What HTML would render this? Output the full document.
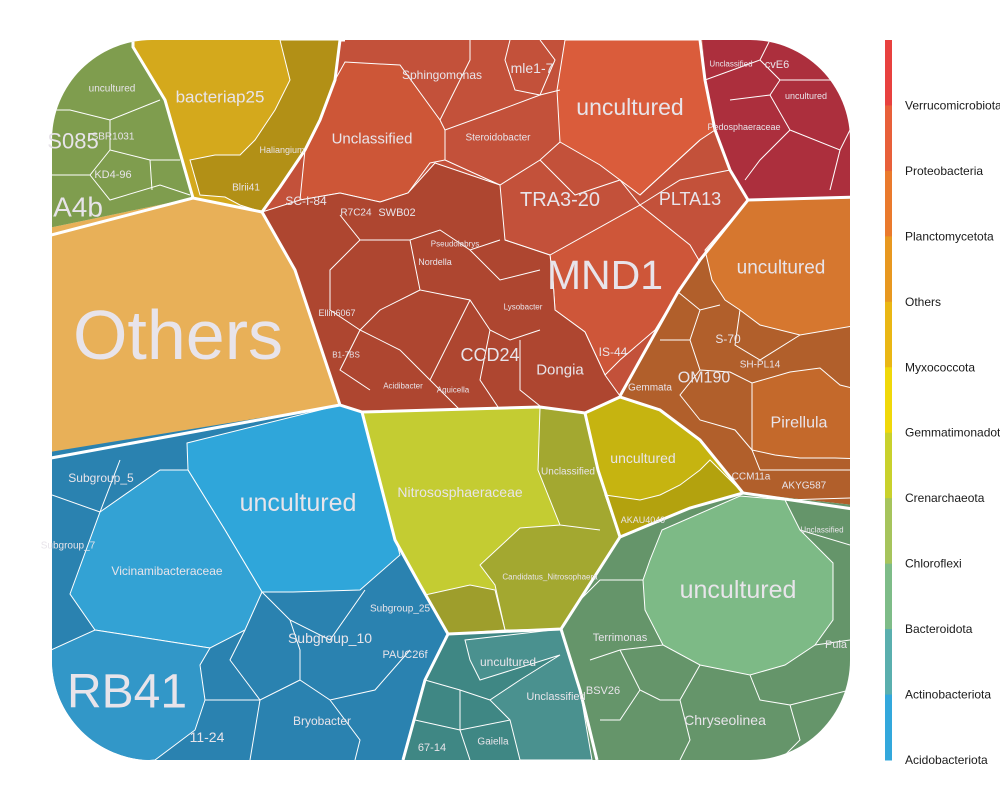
<!DOCTYPE html>
<html><head><meta charset="utf-8"><style>
html,body{margin:0;padding:0;background:#fff;width:1000px;height:800px;overflow:hidden}
svg{display:block;font-family:"Liberation Sans",sans-serif}
.t{fill:#e8e4ea;text-anchor:middle;dominant-baseline:central}
.thin{fill:none;stroke:#fff;stroke-width:1}
.lg{fill:#1a1a1a;font-size:12px;dominant-baseline:central}
</style></head><body>
<svg id="chart" width="1000" height="800" viewBox="0 0 1000 800">
<defs><clipPath id="rc"><rect x="52" y="40" width="798" height="720" rx="100" ry="100"/></clipPath></defs>
<g clip-path="url(#rc)">
<polygon fill="#2A82B0" points="0,455 340,405 362,412 395,540 420,585 448,634 425,680 403,760 0,800"/>
<polygon fill="#2FA6DA" stroke="#fff" stroke-width="1" points="187,443 340,405 362,412 400,555 360,590 293,592 262,592 225,530 188,470"/>
<polygon fill="#33A2D4" stroke="#fff" stroke-width="1" points="100,512 160,470 188,470 225,530 262,592 245,630 210,648 95,630 70,594"/>
<polygon fill="#3297C8" stroke="#fff" stroke-width="1" points="40,655 95,630 210,648 200,665 205,700 195,730 155,760 40,770"/>
<polyline class="thin" points="52,495 100,512 120,460"/>
<polyline class="thin" points="262,592 290,620 330,640 365,590"/>
<polyline class="thin" points="290,620 300,650 300,680 330,700 375,690 410,650"/>
<polyline class="thin" points="205,700 260,700 300,680"/>
<polyline class="thin" points="245,630 230,660 260,700 250,760"/>
<polyline class="thin" points="330,700 360,740 355,760"/>
<polygon fill="#E8B058" points="0,238 193,198 262,212 295,270 315,330 340,405 0,460"/>
<polygon fill="#7F9D4E" points="0,0 133,0 133,47 165,100 185,170 193,198 0,238"/>
<polyline class="thin" points="52,110 70,110 110,120 160,100"/>
<polyline class="thin" points="110,120 110,150 150,160 180,160"/>
<polyline class="thin" points="110,150 90,175 52,175"/>
<polyline class="thin" points="90,175 110,200 160,185 190,195"/>
<polyline class="thin" points="150,160 152,190"/>
<polygon fill="#D4A91C" points="133,0 345,0 340,40 335,80 320,120 305,150 280,187 262,212 193,198 185,170 165,100 133,47"/>
<polygon fill="#B29016" stroke="#fff" stroke-width="1" points="280,40 345,40 335,80 320,120 305,150 280,187 262,212 240,205 225,197 200,195 190,160 215,155 240,155 255,140 275,110 290,80 285,60"/>
<polygon fill="#C3513A" points="345,0 700,0 705,80 715,130 730,170 748,200 700,260 678,292 620,396 585,413 362,412 340,405 315,330 295,270 262,212 280,187 305,150 320,120 335,80 340,40"/>
<polygon fill="#CE5639" stroke="#fff" stroke-width="1" points="550,255 640,205 690,245 700,262 678,292 655,330 620,360 605,375 585,332 555,310 553,280"/>
<polygon fill="#DA5C3B" stroke="#fff" stroke-width="1" points="565,40 700,40 705,80 715,130 700,140 640,195 600,165 560,142 557,90"/>
<polygon fill="#CD5637" stroke="#fff" stroke-width="1" points="345,62 380,64 400,65 440,120 445,130 445,160 430,163 408,193 380,202 340,193 300,200 305,150 320,120 335,80"/>
<polygon fill="#AE4630" stroke="#fff" stroke-width="1" points="262,212 300,200 340,193 380,202 408,193 435,163 500,185 505,240 550,255 553,280 555,310 585,332 605,375 620,396 585,413 362,412 340,405 315,330 295,270"/>
<polyline class="thin" points="445,130 500,110 540,95 560,90"/>
<polyline class="thin" points="445,160 500,185 540,160 560,142"/>
<polyline class="thin" points="640,195 700,140"/>
<polyline class="thin" points="550,255 505,240"/>
<polyline class="thin" points="640,205 620,180 575,195 540,160"/>
<polyline class="thin" points="640,205 680,180 730,170"/>
<polyline class="thin" points="440,120 470,60 470,40"/>
<polyline class="thin" points="510,40 505,60 515,90 540,95 555,60 540,40"/>
<polyline class="thin" points="340,215 360,240 330,270 330,310 360,330 340,370 370,390"/>
<polyline class="thin" points="360,240 410,240 440,230 470,250 500,240"/>
<polyline class="thin" points="410,240 420,290 470,300 490,330 510,340 540,330"/>
<polyline class="thin" points="420,290 380,310 360,330 400,350 430,380 460,410"/>
<polyline class="thin" points="470,300 450,340 430,380"/>
<polyline class="thin" points="490,330 480,380 500,410"/>
<polyline class="thin" points="520,340 520,390 545,410"/>
<polyline class="thin" points="470,250 500,280 540,270"/>
<polygon fill="#AC2F3D" points="700,0 900,0 900,197 748,200 730,170 715,130 705,80"/>
<polyline class="thin" points="705,80 760,60 770,40"/>
<polyline class="thin" points="760,60 780,80 770,95 730,100"/>
<polyline class="thin" points="780,80 830,80 850,90"/>
<polyline class="thin" points="770,95 790,130 760,160 745,180"/>
<polyline class="thin" points="790,130 840,150 850,130"/>
<polyline class="thin" points="840,150 830,190"/>
<polygon fill="#B15F2B" points="748,200 900,197 900,510 743,493 700,440 660,410 620,396 678,292 700,260"/>
<polygon fill="#D6772F" stroke="#fff" stroke-width="1" points="748,200 900,197 900,318 800,335 760,325 740,310 725,300 712,280 705,250"/>
<polygon fill="#C4692B" stroke="#fff" stroke-width="1" points="752,383 790,372 820,368 840,385 900,400 900,460 835,458 800,458 775,455 752,450"/>
<polyline class="thin" points="678,292 700,310 720,305"/>
<polyline class="thin" points="700,310 690,340 700,370 730,372 752,383"/>
<polyline class="thin" points="660,340 690,340"/>
<polyline class="thin" points="700,370 680,395 700,420 735,430 752,450"/>
<polyline class="thin" points="740,310 735,345 760,360 800,335"/>
<polyline class="thin" points="752,450 760,470 800,470 850,470"/>
<polygon fill="#C4CC32" points="362,412 540,407 585,413 598,470 620,537 561,629 448,634 420,585 395,540"/>
<polygon fill="#A3A830" stroke="#fff" stroke-width="1" points="540,408 585,413 598,470 620,537 561,629 505,630 495,585 480,565 520,528 560,525 538,470"/>
<polygon fill="#9E9E2C" stroke="#fff" stroke-width="1" points="425,595 470,585 495,590 505,630 448,634"/>
<polyline class="thin" points="560,525 600,530"/>
<polygon fill="#C6B410" points="585,413 620,397 660,410 700,440 743,493 690,508 620,537 598,470"/>
<polygon fill="#B3A20E" stroke="#fff" stroke-width="1" points="605,495 640,500 660,495 680,485 700,470 710,460 730,480 743,493 690,508 620,537"/>
<polygon fill="#65956A" points="620,537 690,508 743,493 900,510 900,800 600,800 580,700 561,629"/>
<polygon fill="#7DBA86" stroke="#fff" stroke-width="1" points="662,530 740,496 785,500 800,530 833,563 833,620 815,645 785,665 750,675 700,665 663,645 645,610 643,580 650,560"/>
<polyline class="thin" points="785,500 850,498"/>
<polyline class="thin" points="800,530 850,545"/>
<polyline class="thin" points="815,645 850,640"/>
<polyline class="thin" points="750,675 760,700 790,705 800,740 780,760"/>
<polyline class="thin" points="790,705 850,690"/>
<polyline class="thin" points="700,665 680,700 690,740 680,760"/>
<polyline class="thin" points="663,645 620,650 590,660"/>
<polyline class="thin" points="643,580 600,580 580,600"/>
<polyline class="thin" points="620,650 640,690 660,700 680,700"/>
<polyline class="thin" points="640,690 620,720 600,720"/>
<polygon fill="#3F8784" points="448,634 561,629 580,690 600,800 403,800 403,760 425,680"/>
<polygon fill="#4A918F" stroke="#fff" stroke-width="1" points="465,640 561,629 580,690 592,760 520,760 510,720 490,700 520,680 560,655 480,680 470,660"/>
<polyline class="thin" points="425,680 460,690 490,700"/>
<polyline class="thin" points="415,720 460,730 510,720"/>
<polyline class="thin" points="460,690 460,730 470,760"/>
</g>
<g fill="none" stroke="#fff" stroke-width="3" clip-path="url(#rc)">
<polyline points="40,238 193,198 262,212 295,270 315,330 340,405 362,412 540,407 585,413 620,397 660,410 700,440 743,493 860,510"/>
<polyline points="40,460 340,405"/>
<polyline points="133,40 133,47 165,100 185,170 193,198"/>
<polyline points="345,40 340,40 335,80 320,120 305,150 280,187 262,212"/>
<polyline points="700,40 705,80 715,130 730,170 748,200 860,197"/>
<polyline points="748,200 700,260 678,292 620,396"/>
<polyline points="362,412 395,540 420,585 448,634 425,680 403,760"/>
<polyline points="585,413 598,470 620,537 690,508 743,493"/>
<polyline points="620,537 561,629 448,634"/>
<polyline points="561,629 580,690 597,760"/>
</g>
<g>
<text class="t" x="178" y="335" font-size="70">Others</text>
<text class="t" x="605" y="275" font-size="41">MND1</text>
<text class="t" x="127" y="692" font-size="48">RB41</text>
<text class="t" x="298" y="503" font-size="25">uncultured</text>
<text class="t" x="630" y="107" font-size="23">uncultured</text>
<text class="t" x="738" y="590" font-size="25">uncultured</text>
<text class="t" x="781" y="268" font-size="19">uncultured</text>
<text class="t" x="643" y="458" font-size="14">uncultured</text>
<text class="t" x="508" y="662" font-size="12">uncultured</text>
<text class="t" x="112" y="89" font-size="10">uncultured</text>
<text class="t" x="806" y="96" font-size="9">uncultured</text>
<text class="t" x="220" y="97" font-size="17">bacteriap25</text>
<text class="t" x="372" y="139" font-size="15">Unclassified</text>
<text class="t" x="560" y="200" font-size="20">TRA3-20</text>
<text class="t" x="690" y="199" font-size="18">PLTA13</text>
<text class="t" x="490" y="355" font-size="18">CCD24</text>
<text class="t" x="560" y="370" font-size="15">Dongia</text>
<text class="t" x="613" y="352" font-size="12">IS-44</text>
<text class="t" x="442" y="75" font-size="12">Sphingomonas</text>
<text class="t" x="532" y="68" font-size="14">mle1-7</text>
<text class="t" x="498" y="138" font-size="10">Steroidobacter</text>
<text class="t" x="306" y="201" font-size="12">SC-I-84</text>
<text class="t" x="356" y="213" font-size="10">R7C24</text>
<text class="t" x="397" y="213" font-size="11">SWB02</text>
<text class="t" x="435" y="262" font-size="9">Nordella</text>
<text class="t" x="455" y="244" font-size="8">Pseudolabrys</text>
<text class="t" x="337" y="313" font-size="9">Ellin6067</text>
<text class="t" x="346" y="355" font-size="8">B1-7BS</text>
<text class="t" x="403" y="386" font-size="8">Acidibacter</text>
<text class="t" x="453" y="390" font-size="8">Aquicella</text>
<text class="t" x="523" y="307" font-size="8">Lysobacter</text>
<text class="t" x="73" y="141" font-size="22">S085</text>
<text class="t" x="78" y="207" font-size="28">A4b</text>
<text class="t" x="113" y="137" font-size="10">SBR1031</text>
<text class="t" x="113" y="175" font-size="11">KD4-96</text>
<text class="t" x="282" y="150" font-size="9">Haliangium</text>
<text class="t" x="246" y="188" font-size="10">Blrii41</text>
<text class="t" x="460" y="492" font-size="14">Nitrososphaeraceae</text>
<text class="t" x="568" y="472" font-size="10">Unclassified</text>
<text class="t" x="550" y="577" font-size="8">Candidatus_Nitrosophaera</text>
<text class="t" x="643" y="520" font-size="9">AKAU4049</text>
<text class="t" x="167" y="571" font-size="12">Vicinamibacteraceae</text>
<text class="t" x="101" y="478" font-size="12">Subgroup_5</text>
<text class="t" x="68" y="546" font-size="10">Subgroup_7</text>
<text class="t" x="330" y="638" font-size="14">Subgroup_10</text>
<text class="t" x="400" y="609" font-size="10">Subgroup_25</text>
<text class="t" x="405" y="655" font-size="11">PAUC26f</text>
<text class="t" x="322" y="721" font-size="12">Bryobacter</text>
<text class="t" x="207" y="737" font-size="14">11-24</text>
<text class="t" x="799" y="423" font-size="16">Pirellula</text>
<text class="t" x="704" y="378" font-size="16">OM190</text>
<text class="t" x="728" y="339" font-size="12">S-70</text>
<text class="t" x="760" y="365" font-size="10">SH-PL14</text>
<text class="t" x="650" y="388" font-size="10">Gemmata</text>
<text class="t" x="751" y="477" font-size="10">CCM11a</text>
<text class="t" x="804" y="486" font-size="10">AKYG587</text>
<text class="t" x="744" y="127" font-size="9">Pedosphaeraceae</text>
<text class="t" x="777" y="65" font-size="11">cvE6</text>
<text class="t" x="731" y="64" font-size="8">Unclassified</text>
<text class="t" x="725" y="720" font-size="14">Chryseolinea</text>
<text class="t" x="620" y="638" font-size="11">Terrimonas</text>
<text class="t" x="836" y="645" font-size="11">Puia</text>
<text class="t" x="822" y="530" font-size="8">Unclassified</text>
<text class="t" x="556" y="697" font-size="11">Unclassified</text>
<text class="t" x="493" y="742" font-size="10">Gaiella</text>
<text class="t" x="432" y="748" font-size="11">67-14</text>
<text class="t" x="603" y="691" font-size="11">BSV26</text>
</g>
<g id="legend"></g>
</svg>
<script>
const legendLabels = ["Verrucomicrobiota","Proteobacteria","Planctomycetota","Others","Myxococcota","Gemmatimonadota","Crenarchaeota","Chloroflexi","Bacteroidota","Actinobacteriota","Acidobacteriota"];
const legendColors = ["#E8413F","#E8603A","#EA7A2D","#E89820","#EAB714","#F0D80A","#C9D12C","#A6C45C","#7EBC88","#5AAFAE","#33A8DC"];
const NS = "http://www.w3.org/2000/svg";
const lg = document.getElementById("legend");
const top0 = 40, bot0 = 760, bx = 885, bw = 7;
const segH = (bot0 - top0) / legendColors.length;
legendColors.forEach((c, i) => {
  const r = document.createElementNS(NS, "rect");
  r.setAttribute("x", bx); r.setAttribute("y", top0 + i * segH);
  r.setAttribute("width", bw); r.setAttribute("height", segH + 0.5);
  r.setAttribute("fill", c);
  
  
  lg.appendChild(r);
});
legendLabels.forEach((s, i) => {
  const t = document.createElementNS(NS, "text");
  t.setAttribute("x", 905); t.setAttribute("y", top0 + (i + 1) * segH);
  t.setAttribute("class", "lg");
  t.textContent = s;
  
  
  lg.appendChild(t);
});
</script>
</body></html>
